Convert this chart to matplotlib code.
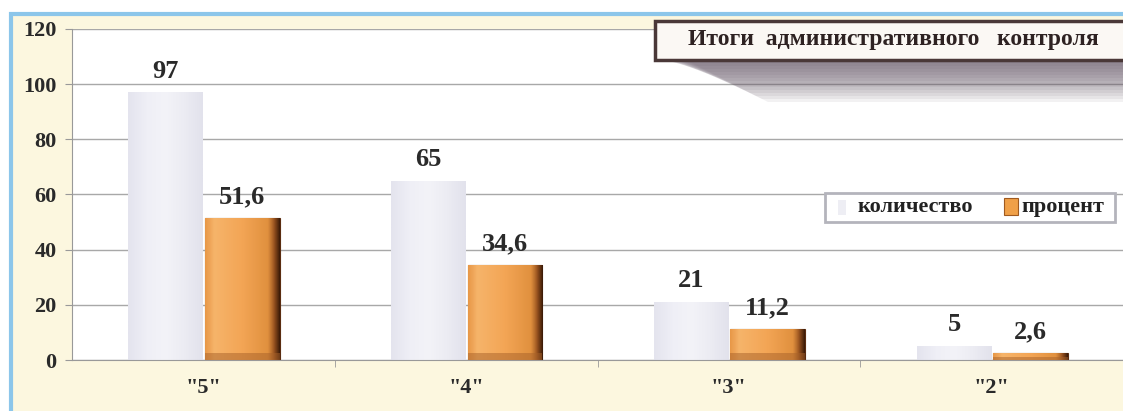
import matplotlib.pyplot as plt
import matplotlib.patches as patches
from matplotlib.colors import LinearSegmentedColormap
import numpy as np

categories = ['"5"', '"4"', '"3"', '"2"']
kolichestvo = [97, 65, 21, 5]
procent = [51.6, 34.6, 11.2, 2.6]
kol_labels = ['97', '65', '21', '5']
proc_labels = ['51,6', '34,6', '11,2', '2,6']
y_ticks = [0, 20, 40, 60, 80, 100, 120]

serif = 'Liberation Serif'

fig = plt.figure(figsize=(11.23, 4.11), dpi=100)
fig.patch.set_facecolor('white')

# cream panel with blue frame
frame = patches.Rectangle((11 / 1123, -0.1), 1.2, 1.1 - 14 / 411,
                          transform=fig.transFigure, facecolor='#fcf7df',
                          edgecolor='#8cc6ea', linewidth=3, zorder=0)
fig.add_artist(frame)

ax = fig.add_axes([72 / 1123, 51 / 411, 1 - 72 / 1123, (360 - 29) / 411])
ax.set_facecolor('white')

x = np.arange(len(categories))
w = 0.285
grey_bars = ax.bar(x - 0.143, kolichestvo, width=w, color='#ebebf3',
                   edgecolor='none', zorder=2)
orange_bars = ax.bar(x + 0.148, procent, width=w, color='#f3a757',
                     edgecolor='#5a2c10', linewidth=0.8, zorder=2)

# gradients inside the bars
grey_cmap = LinearSegmentedColormap.from_list(
    'g', ['#e4e4ee', '#efeff6', '#f3f3f8', '#ececf3', '#e2e2ec'])
orange_cmap = LinearSegmentedColormap.from_list(
    'o', [(0, '#e89848'), (0.12, '#f6b46a'), (0.5, '#f3a555'),
          (0.85, '#e0903e'), (0.93, '#9a5420'), (1, '#3e1c08')])
grad = np.linspace(0, 1, 64).reshape(1, -1)
for bars, cmap in [(grey_bars, grey_cmap), (orange_bars, orange_cmap)]:
    for b in bars:
        x0, y0 = b.get_x(), b.get_y()
        im = ax.imshow(grad, cmap=cmap, aspect='auto', zorder=2.5,
                       extent=[x0, x0 + b.get_width(), y0, y0 + b.get_height()])
        im.set_clip_path(b)
for b in orange_bars:
    h = min(2.5, b.get_height() * 0.4)
    ax.add_patch(patches.Rectangle((b.get_x(), 0), b.get_width(), h,
                                   facecolor='#a8622a', alpha=0.5,
                                   edgecolor='none', zorder=2.6))
ax.set_ylim(0, 120)
ax.set_xlim(-0.5, -0.5 + (1123 - 72) / 263)

for xi, v, s in zip(x, kolichestvo, kol_labels):
    ax.annotate(s, (xi - 0.143, v), xytext=(0, 7), textcoords='offset points',
                ha='center', va='bottom', fontsize=19, fontweight='bold',
                family=serif, color='#2a2a2a')
for xi, v, s in zip(x, procent, proc_labels):
    ax.annotate(s, (xi + 0.148, v), xytext=(0, 7), textcoords='offset points',
                ha='center', va='bottom', fontsize=19, fontweight='bold',
                family=serif, color='#2a2a2a')

ax.set_yticks(y_ticks)
ax.set_yticklabels([str(t) for t in y_ticks], fontsize=16, fontweight='bold',
                   family=serif, color='#2a2a2a')
ax.set_xticks(x)
ax.set_xticklabels(categories, fontsize=16, fontweight='bold', family=serif,
                   color='#2a2a2a')
ax.set_xticks(np.arange(len(categories)) + 0.5, minor=True)
ax.tick_params(axis='x', which='major', length=0, pad=13)
ax.tick_params(axis='x', which='minor', length=5, color='#999999')
ax.tick_params(axis='y', length=5, color='#999999', pad=6)
ax.grid(axis='y', color='#a8a8a8', linewidth=1, zorder=1)
ax.set_axisbelow(True)
for sp in ['top', 'right']:
    ax.spines[sp].set_visible(False)
for sp in ['left', 'bottom']:
    ax.spines[sp].set_color('#999999')

# title box with a smeared shadow
for i in range(14):
    top = 60
    bot = 63 + i * 3
    left_top = 660 + i * 2
    left_bot = 690 + i * 6
    pts = [(left_top, top), (1123, top), (1123, bot), (left_bot, bot)]
    pts = [(px / 1123, 1 - py / 411) for px, py in pts]
    fig.add_artist(patches.Polygon(pts, closed=True, transform=fig.transFigure,
                                   facecolor='#5e4e60', edgecolor='none',
                                   alpha=0.08, zorder=5))
tb = patches.Rectangle((655 / 1123, 1 - 60 / 411), 480 / 1123, 39 / 411,
                       transform=fig.transFigure, facecolor='#fbf8f4',
                       edgecolor='#4a3838', linewidth=2.5, zorder=6)
fig.add_artist(tb)
fig.text(688 / 1123, 1 - 40 / 411, 'Итоги  административного   контроля',
         ha='left', va='center', fontsize=17, fontweight='bold', family=serif,
         color='#2e2222', zorder=7)

# legend
lb = patches.Rectangle((825 / 1123, 1 - 222 / 411), 290 / 1123, 29 / 411,
                       transform=fig.transFigure, facecolor='white',
                       edgecolor='#b4b4bc', linewidth=2, zorder=6)
fig.add_artist(lb)
fig.add_artist(patches.Rectangle((838 / 1123, 1 - 215 / 411), 8 / 1123, 15 / 411,
                                 transform=fig.transFigure, facecolor='#eeeef4',
                                 edgecolor='none', zorder=7))
fig.text(858 / 1123, 1 - 207 / 411, 'количество', ha='left', va='center',
         fontsize=16, fontweight='bold', family=serif, color='#222222', zorder=7)
fig.add_artist(patches.Rectangle((1004 / 1123, 1 - 215 / 411), 14 / 1123, 17 / 411,
                                 transform=fig.transFigure, facecolor='#f0a048',
                                 edgecolor='#a05a20', linewidth=0.8, zorder=7))
fig.text(1021 / 1123, 1 - 207 / 411, 'процент', ha='left', va='center',
         fontsize=16, fontweight='bold', family=serif, color='#222222', zorder=7)

fig.savefig('out.png', dpi=100)
